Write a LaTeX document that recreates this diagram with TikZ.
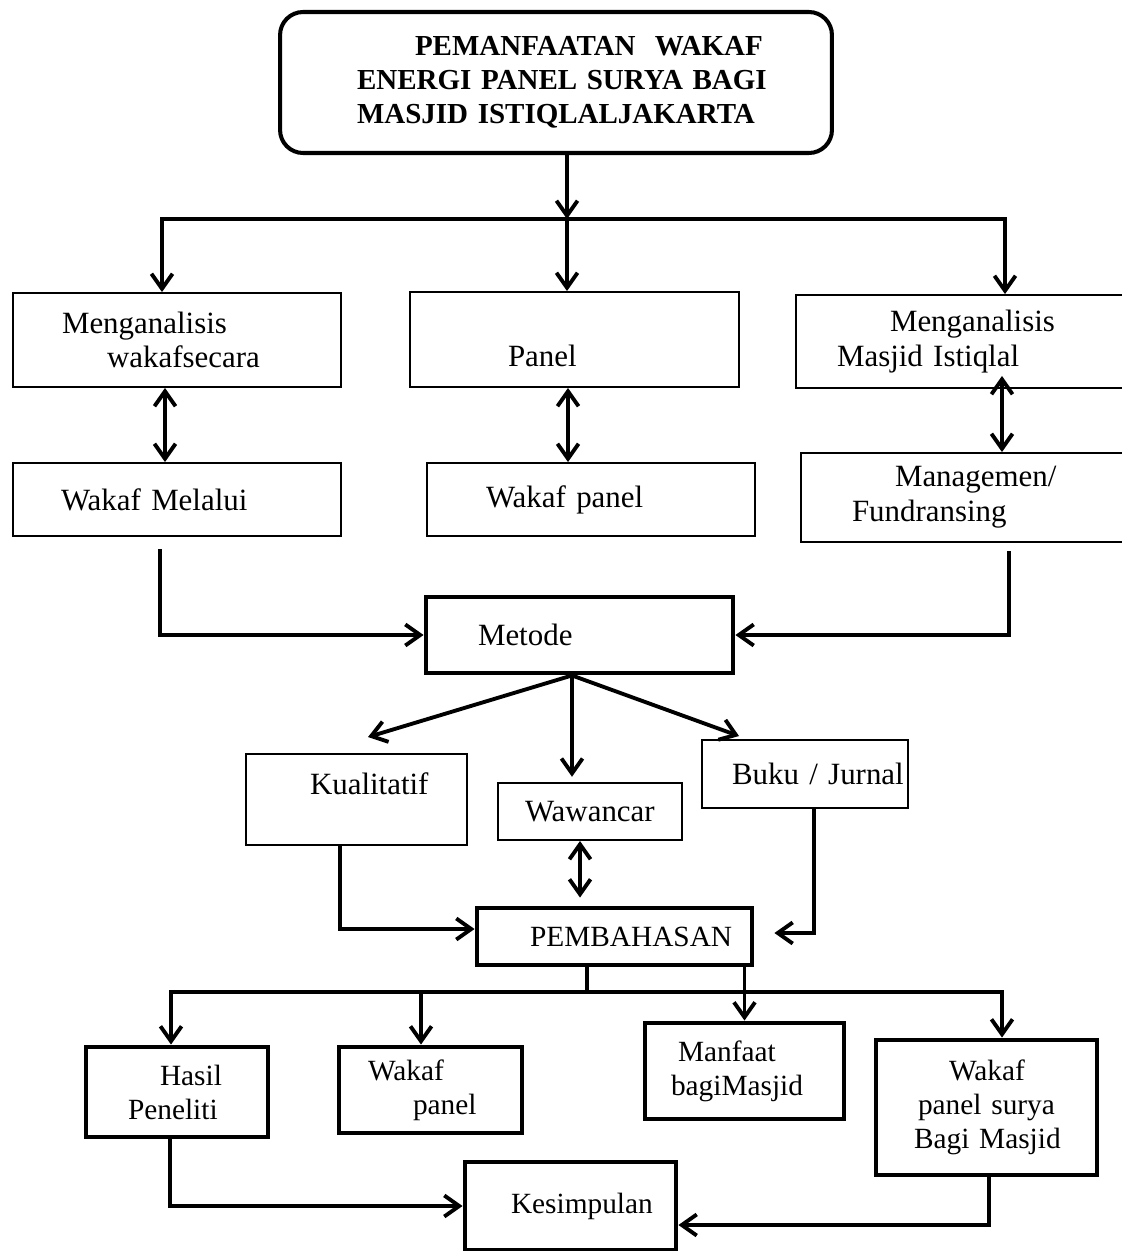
\documentclass[tikz,border=0pt]{standalone}
\usepackage{fontspec}
\setmainfont{Liberation Serif}
\usetikzlibrary{arrows.meta}
\usetikzlibrary{positioning}
\hyphenpenalty=10000
\tikzstyle{box} = [draw, line width=1.1pt, align=left, inner xsep=0.3cm, inner ysep=0pt, font=\fontsize{17.6}{19.8}\selectfont]
\tikzstyle{boldbox} = [box, line width=2.8pt]
\tikzstyle{lowbox} = [boldbox, font=\fontsize{16.7}{19.3}\selectfont]
\tikzstyle{arr} = [draw, line width=2.2pt, -{Straight Barb[length=8.5pt,width=12pt]}]
\tikzstyle{darr} = [draw, line width=2.2pt, {Straight Barb[length=8.5pt,width=12pt]}-{Straight Barb[length=8.5pt,width=12pt]}]
\tikzstyle{bus} = [draw, line width=2.2pt, line cap=rect]
\newcommand{\vshift}[2]{\raisebox{#1}[\height][\depth]{#2}}

\begin{document}
\begin{tikzpicture}[x=0.02cm, y=-0.02cm]
\useasboundingbox (0,0) rectangle (1122,1251);

% judul
\node[box, line width=2.3pt, rounded corners=0.46cm, text width=10.44cm, minimum height=2.82cm,
      font=\bfseries\fontsize{16.5}{19.3}\selectfont] (title) at (556,82.5)
  {\hspace*{2.4cm}PEMANFAATAN\ \ WAKAF\\\hspace*{1.24cm}ENERGI PANEL SURYA BAGI\\\hspace*{1.24cm}MASJID ISTIQLALJAKARTA};

\coordinate (busL) at (162,219);
\coordinate (busT) at (567,219);
\coordinate (busR) at (1005,219);

% baris 1 dan 2
\node[box, text width=5.96cm, minimum height=1.88cm] (anal) at (177,340)
  {\hspace*{0.68cm}Menganalisis\\\hspace*{1.58cm}wakafsecara};
\node[box, text width=5.98cm, minimum height=1.9cm] (panel) at (574.5,339.5)
  {\hspace*{1.66cm}\vshift{-0.32cm}{Panel}};
\node[box, text width=6.08cm, minimum height=1.86cm] (analm) at (963,341.5)
  {\hspace*{1.58cm}Menganalisis\\\hspace*{0.52cm}Masjid Istiqlal};

\node[box, text width=5.96cm, minimum height=1.46cm] (wml) at (177,499.5) {\hspace*{0.66cm}Wakaf Melalui};
\node[box, text width=5.96cm, minimum height=1.46cm] (wpanel) at (591,499.5) {\hspace*{0.88cm}Wakaf panel};
\node[box, text width=5.98cm, minimum height=1.78cm] (mgmt) at (965.5,497.5)
  {\hspace*{1.58cm}Managemen/\\\hspace*{0.72cm}Fundransing};

% metode
\node[boldbox, text width=5.54cm, minimum height=1.52cm] (metode) at (579.5,635) {\hspace*{0.74cm}Metode};

\node[box, text width=3.82cm, minimum height=1.82cm] (kual) at (356.5,799.5) {\hspace*{0.98cm}\vshift{0.32cm}{Kualitatif}};
\node[box, text width=3.08cm, minimum height=1.14cm] (waw) at (590,811.5) {\hspace*{0.24cm}Wawancar};
\node[box, text width=3.52cm, minimum height=1.36cm] (buku) at (805,774) {\hspace*{0.3cm}\mbox{Buku / Jurnal}};

\node[lowbox, text width=4.9cm, minimum height=1.14cm] (pemb) at (614.5,936.5) {\hspace*{0.76cm}PEMBAHASAN};

% hasil
\node[lowbox, text width=3.04cm, minimum height=1.8cm] (hasil) at (177,1092)
  {\hspace*{1.18cm}Hasil\\\hspace*{0.54cm}Peneliti};
\node[lowbox, text width=3.06cm, minimum height=1.72cm] (wpan2) at (430.5,1090)
  {\hspace*{0.28cm}Wakaf\\\hspace*{1.18cm}panel};
\node[lowbox, text width=3.38cm, minimum height=1.92cm] (manf) at (744.5,1071)
  {\hspace*{0.36cm}Manfaat\\\hspace*{0.22cm}bagiMasjid};
\node[lowbox, text width=3.82cm, minimum height=2.7cm] (surya) at (986.5,1107.5)
  {\hspace*{1.16cm}Wakaf\\\hspace*{0.54cm}panel surya\\\hspace*{0.46cm}Bagi Masjid};
\node[lowbox, text width=3.62cm, minimum height=1.76cm] (kesim) at (570.5,1206) {\hspace*{0.62cm}Kesimpulan};

% panah atas
\draw[arr] (title.south -| busT) -- (busT);
\draw[bus] (busL) -- (busR);
\foreach \c/\n in {busL/anal, busT/panel, busR/analm}
  \draw[arr] (\c) -- (\n.north -| \c);

\draw[darr] ([xshift=-0.24cm]anal.south) -- ([xshift=-0.24cm]wml.north);
\draw[darr] ([xshift=-0.13cm]panel.south) -- ([xshift=-0.46cm]wpanel.north);
\draw[darr] ([xshift=0.78cm,yshift=0.26cm]analm.south) -- ([xshift=0.73cm]mgmt.north);

\draw[arr] ([xshift=-0.34cm,yshift=-0.24cm]wml.south) |- (metode.west);
\draw[arr] ([xshift=0.87cm,yshift=-0.16cm]mgmt.south) |- (metode.east);

% cabang metode
\coordinate (fan) at ([xshift=-0.15cm]metode.south);
\draw[arr] (fan) -- ([xshift=0.23cm,yshift=0.32cm]kual.north);
\draw[arr, shorten >=3pt] (fan) -- (fan |- waw.north);
\draw[arr] (fan) -- ([xshift=0.76cm,yshift=0.06cm]buku.north west);

\draw[darr] ([xshift=-0.2cm]waw.south) -- ([xshift=-0.69cm,yshift=0.16cm]pemb.north);
\draw[arr] ([xshift=-0.33cm]kual.south) |- ([yshift=0.15cm]pemb.west);
\draw[arr] ([xshift=0.18cm]buku.south) |- ([xshift=0.4cm,yshift=0.07cm]pemb.east);

% panah bawah
\coordinate (pdrop) at ([xshift=-0.55cm]pemb.south);
\coordinate (bus2L) at (171,992);
\coordinate (bus2M) at (421,992);
\coordinate (bus2R) at (1002,992);
\draw[bus] (pdrop) -- (pdrop |- bus2L);
\draw[bus] (bus2L) -- (bus2R);
\draw[arr] (pemb.south -| manf.north) -- (manf.north);
\foreach \c/\n in {bus2L/hasil, bus2M/wpan2, bus2R/surya}
  \draw[arr] (\c) -- (\n.north -| \c);

\draw[arr] ([xshift=-0.14cm]hasil.south) |- (kesim.west);
\draw[arr] ([xshift=0.05cm]surya.south) |- ([yshift=-0.38cm]kesim.east);

\end{tikzpicture}
\end{document}
